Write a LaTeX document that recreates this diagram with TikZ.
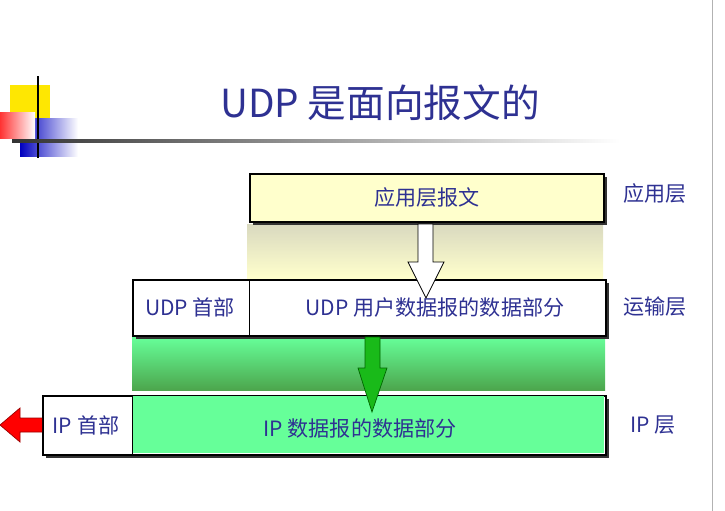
\documentclass[tikz,border=0pt]{standalone}
\usepackage{fontspec}
\setmainfont{Noto Sans CJK SC}
\usetikzlibrary{shadows}
\definecolor{txtblue}{RGB}{46,49,146}
\definecolor{appyellow}{RGB}{255,255,204}
\definecolor{ipgreen}{RGB}{102,255,153}
\tikzset{
    layerbox/.style={draw,line width=1pt,drop shadow={shadow xshift=2pt,shadow yshift=-2pt,opacity=1,fill=black!80}},
    cell/.style={font=\fontsize{12}{14}\selectfont,text=txtblue,inner sep=0pt},
    layername/.style={font=\fontsize{12}{14}\selectfont,text=txtblue}
}
\begin{document}
\begin{tikzpicture}[x=0.02cm,y=-0.02cm]
    \useasboundingbox (0,0) rectangle (725,511);
    % logo
    \fill[yellow!90!orange] (10,85) rectangle (50,125);
    \shade[left color=blue!75!black,right color=white] (20,118) rectangle (78,156);
    \shade[left color=red!80,right color=white] (0,112) rectangle (35,138);
    \draw[line width=1pt] (38,76) -- (38,158);
    \shade[left color=black!80,right color=white] (12,139) rectangle (620,142);
    \node[font=\fontsize{22}{26}\selectfont,text=txtblue] (title) at (380,103) {UDP 是面向报文的};
    \draw[black!30] (712,0) -- (712,511);
    % bands between layers
    \shade[top color=yellow!25!gray!40,bottom color=appyellow] (247,224) rectangle (603,278);
    \shade[top color=ipgreen,bottom color=green!50!black!70] (132,337) rectangle (605,390);
    % application layer
    \node[layerbox,fill=appyellow,minimum width=354*0.02cm,minimum height=48*0.02cm,anchor=north west] (app) at (249,173) {};
    \node[cell] at (app) {应用层报文};
    % transport layer
    \node[layerbox,fill=white,minimum width=473*0.02cm,minimum height=56*0.02cm,anchor=north west] (udp) at (132,279) {};
    \draw (249,279) -- (249,335);
    \node[cell] (udphead) at (190,307) {UDP 首部};
    \node[cell] (udpdata) at (435,307) {UDP 用户数据报的数据部分};
    % network layer
    \node[layerbox,fill=white,minimum width=563*0.02cm,minimum height=59*0.02cm,anchor=north west] (ip) at (42,395) {};
    \fill[ipgreen] (132,396) rectangle (604,453);
    \draw (132,395) -- (132,454);
    \node[cell] (iphead) at (86,425) {IP 首部};
    \node[cell] (ipdata) at (360,428) {IP 数据报的数据部分};
    % arrows
    \draw[fill=white] (418,224) -- (433,224) -- (433,262) -- (444,262) -- (426,298) -- (408,262) -- (418,262) -- cycle;
    \draw[fill=green!70!black!90,draw=green!40!black] (365,337) -- (380,337) -- (380,368) -- (387,368) -- (372,412) -- (358,368) -- (365,368) -- cycle;
    \draw[fill=red,draw=red!60!black] (42,418) -- (20,418) -- (20,408) -- (0,425) -- (20,442) -- (20,432) -- (42,432);
    % layer names
    \node[layername] (lapp) at (655,193) {应用层};
    \node[layername] (ltrans) at (655,307) {运输层};
    \node[layername] (lip) at (653,425) {IP 层};
\end{tikzpicture}
\end{document}
